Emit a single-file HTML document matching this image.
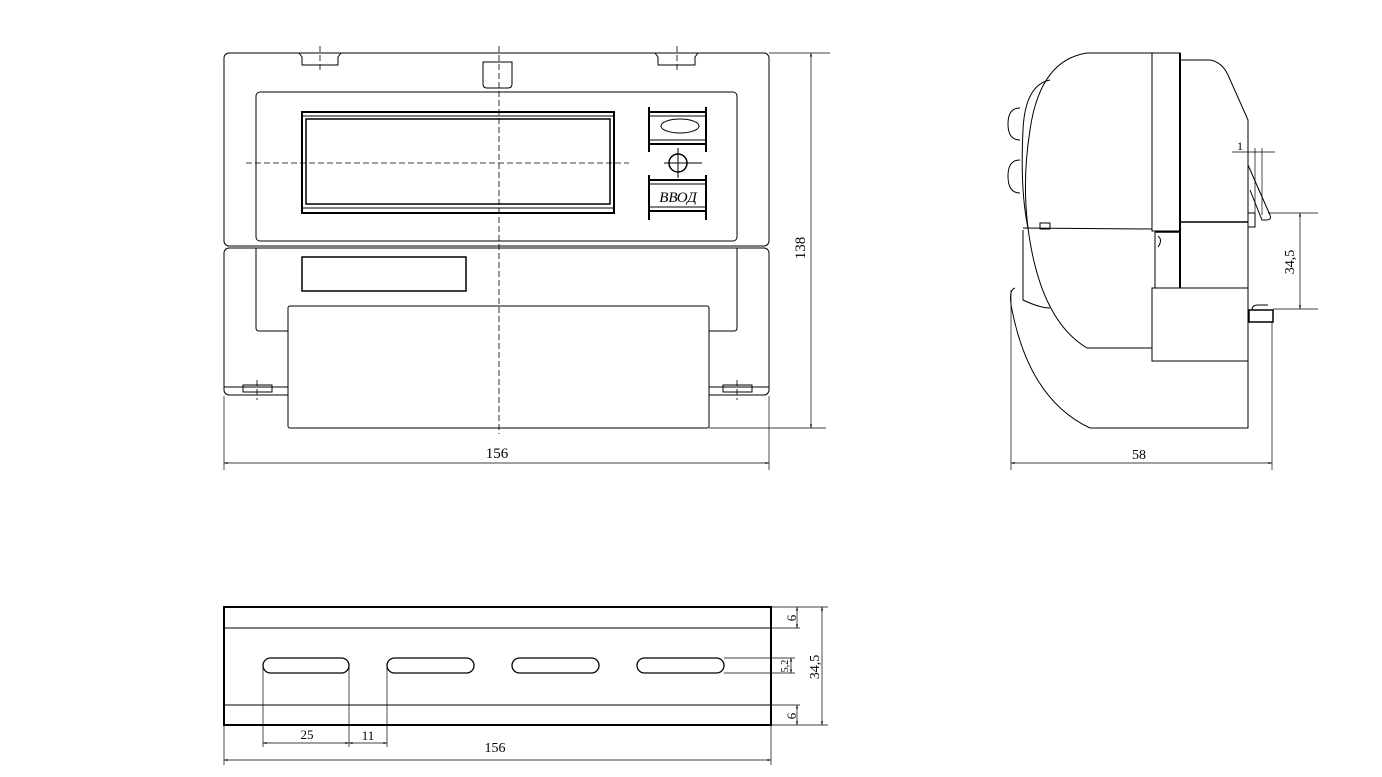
<!DOCTYPE html>
<html><head><meta charset="utf-8"><style>html,body{margin:0;padding:0;background:#fff}svg{display:block}</style></head>
<body>
<svg width="1382" height="777" viewBox="0 0 1382 777" xmlns="http://www.w3.org/2000/svg" font-family="Liberation Serif, serif" fill="none" stroke="#000" stroke-width="1">
<defs><marker id="a" viewBox="0 0 10 10" refX="10" refY="5" markerWidth="7" markerHeight="5" orient="auto-start-reverse"><path d="M0,2 L10,5 L0,8z" fill="#000" stroke="none"/></marker></defs>
<!-- FRONT VIEW -->
<rect x="224" y="53" width="545" height="193" rx="5"/>
<path d="M299,53 L302,57 V65 H338 V57 L341,53"/><path d="M655,53 L658,57 V65 H695 V57 L698,53"/>
<path d="M483,62 H512 V84 Q512,88 508,88 H487 Q483,88 483,84Z"/>
<rect x="256" y="92" width="481" height="149" rx="4"/>
<rect x="302" y="112" width="312" height="101" stroke-width="2"/>
<rect x="306" y="119" width="304" height="85" stroke-width="1.5"/>
<line x1="302" y1="116" x2="614" y2="116"/><line x1="302" y1="208" x2="614" y2="208"/>
<g stroke-width="2"><line x1="649" y1="107" x2="649" y2="152"/><line x1="706" y1="107" x2="706" y2="152"/><line x1="649" y1="112" x2="706" y2="112"/><line x1="649" y1="144" x2="706" y2="144"/>
<line x1="649" y1="175" x2="649" y2="220"/><line x1="706" y1="175" x2="706" y2="220"/><line x1="649" y1="180" x2="706" y2="180"/><line x1="649" y1="211" x2="706" y2="211"/></g>
<line x1="649" y1="116" x2="706" y2="116"/><line x1="649" y1="140" x2="706" y2="140"/><line x1="649" y1="184" x2="706" y2="184"/><line x1="649" y1="207" x2="706" y2="207"/>
<ellipse cx="680" cy="126" rx="19" ry="7"/>
<circle cx="678" cy="163" r="9" stroke-width="1.5"/><line x1="664" y1="163" x2="702" y2="163"/><line x1="678" y1="148" x2="678" y2="178"/>
<text x="678" y="202" font-size="15" font-style="italic" text-anchor="middle" fill="#000" stroke="none">ВВОД</text>
<rect x="224" y="248" width="545" height="147" rx="5"/>
<path d="M256,248 V328 Q256,331 259,331 H288"/><path d="M737,248 V328 Q737,331 734,331 H709"/>
<line x1="224" y1="387" x2="288" y2="387"/><line x1="709" y1="387" x2="769" y2="387"/>
<rect x="302" y="257" width="164" height="34" stroke-width="1.5"/>
<rect x="288" y="306" width="421" height="122" rx="2" fill="#fff"/>
<rect x="243" y="385" width="29" height="7"/><rect x="723" y="385" width="29" height="7"/>
<g stroke-dasharray="6,3" stroke-width="0.8"><line x1="499" y1="46" x2="499" y2="434"/><line x1="246" y1="163" x2="629" y2="163"/>
<line x1="320" y1="46" x2="320" y2="70"/><line x1="677" y1="46" x2="677" y2="70"/><line x1="257" y1="380" x2="257" y2="400"/><line x1="737" y1="380" x2="737" y2="400"/></g>
<line x1="769" y1="53" x2="830" y2="53" stroke-width="0.7"/><line x1="709" y1="428" x2="826" y2="428" stroke-width="0.7"/>
<line x1="811" y1="53" x2="811" y2="428" stroke-width="0.7" marker-start="url(#a)" marker-end="url(#a)"/>
<text transform="translate(805,248) rotate(-90)" font-size="15" text-anchor="middle" fill="#000" stroke="none">138</text>
<line x1="224" y1="396" x2="224" y2="470" stroke-width="0.7"/><line x1="769" y1="396" x2="769" y2="470" stroke-width="0.7"/>
<line x1="224" y1="463" x2="769" y2="463" stroke-width="0.7" marker-start="url(#a)" marker-end="url(#a)"/>
<text x="497" y="458" font-size="15" text-anchor="middle" fill="#000" stroke="none">156</text>
<!-- SIDE VIEW -->
<path d="M1152,53 H1087 Q1040,60 1030,130 Q1022,180 1028,228"/>
<path d="M1050,80 Q1025,85 1023,130 Q1020,190 1028,228"/>
<path d="M1020,108 Q1008,108 1008,124 Q1008,140 1020,140"/><path d="M1020,160 Q1008,160 1008,176 Q1008,193 1020,193"/>
<rect x="1152" y="53" width="28" height="178"/>
<line x1="1180" y1="53" x2="1180" y2="288" stroke-width="2"/>
<path d="M1180,60 H1210 Q1222,62 1228,75 L1248,120 V222"/>
<line x1="1023" y1="228" x2="1152" y2="229"/><rect x="1040" y="223" width="10" height="6"/>
<path d="M1023,230 V300 Q1040,308 1050,308"/>
<path d="M1028,228 Q1040,320 1087,348 H1152"/>
<path d="M1015,288 Q1008,290 1012,310 Q1030,400 1090,428 H1248 V222"/>
<rect x="1152" y="288" width="96" height="73"/>
<line x1="1180" y1="222" x2="1248" y2="222" stroke-width="1.5"/>
<line x1="1155" y1="232" x2="1180" y2="232" stroke-width="1.5"/><line x1="1155" y1="232" x2="1155" y2="288"/>
<path d="M1158,236 Q1163,240 1158,247"/>
<path d="M1248,165 L1270,215 Q1272,220 1266,220 L1262,220 L1250,190"/><path d="M1248,213 H1255 V227 H1248"/>
<rect x="1249" y="310" width="24" height="12" stroke-width="1.5"/><path d="M1252,310 Q1252,305 1258,305 H1268"/>
<line x1="1232" y1="152" x2="1275" y2="152" stroke-width="0.7"/><line x1="1255" y1="148" x2="1255" y2="225" stroke-width="0.7"/><line x1="1262" y1="148" x2="1262" y2="215" stroke-width="0.7"/>
<text x="1240" y="150" font-size="12" text-anchor="middle" fill="#000" stroke="none">1</text>
<line x1="1268" y1="213" x2="1318" y2="213" stroke-width="0.7"/><line x1="1273" y1="309" x2="1318" y2="309" stroke-width="0.7"/>
<line x1="1300" y1="213" x2="1300" y2="309" stroke-width="0.7" marker-start="url(#a)" marker-end="url(#a)"/>
<text transform="translate(1294,262) rotate(-90)" font-size="14" text-anchor="middle" fill="#000" stroke="none">34,5</text>
<line x1="1011" y1="290" x2="1011" y2="470" stroke-width="0.7"/><line x1="1272" y1="322" x2="1272" y2="470" stroke-width="0.7"/>
<line x1="1011" y1="463" x2="1272" y2="463" stroke-width="0.7" marker-start="url(#a)" marker-end="url(#a)"/>
<text x="1139" y="459" font-size="14" text-anchor="middle" fill="#000" stroke="none">58</text>
<!-- DIN RAIL -->
<rect x="224" y="607" width="547" height="118" stroke-width="2"/>
<line x1="224" y1="628" x2="771" y2="628"/><line x1="224" y1="705" x2="771" y2="705"/>
<g stroke-width="1.3"><rect x="263" y="658" width="86" height="15" rx="7.5"/><rect x="387" y="658" width="87" height="15" rx="7.5"/><rect x="512" y="658" width="87" height="15" rx="7.5"/><rect x="637" y="658" width="87" height="15" rx="7.5"/></g>
<g stroke-width="0.7">
<line x1="263" y1="666" x2="263" y2="747"/><line x1="349" y1="666" x2="349" y2="747"/><line x1="387" y1="666" x2="387" y2="747"/>
<line x1="263" y1="743" x2="349" y2="743" marker-start="url(#a)" marker-end="url(#a)"/><line x1="349" y1="743" x2="387" y2="743" marker-start="url(#a)" marker-end="url(#a)"/>
<line x1="224" y1="726" x2="224" y2="765"/><line x1="771" y1="726" x2="771" y2="765"/>
<line x1="224" y1="760" x2="771" y2="760" marker-start="url(#a)" marker-end="url(#a)"/>
<line x1="771" y1="607" x2="828" y2="607"/><line x1="771" y1="725" x2="828" y2="725"/><line x1="771" y1="628" x2="800" y2="628"/><line x1="771" y1="705" x2="800" y2="705"/>
<line x1="724" y1="658" x2="795" y2="658"/><line x1="724" y1="673" x2="795" y2="673"/>
<line x1="797" y1="607" x2="797" y2="628" marker-start="url(#a)" marker-end="url(#a)"/><line x1="797" y1="705" x2="797" y2="725" marker-start="url(#a)" marker-end="url(#a)"/>
<line x1="791" y1="658" x2="791" y2="673" marker-start="url(#a)" marker-end="url(#a)"/>
<line x1="822" y1="607" x2="822" y2="725" marker-start="url(#a)" marker-end="url(#a)"/>
</g>
<g fill="#000" stroke="none" font-size="13" text-anchor="middle">
<text x="307" y="739">25</text><text x="368" y="740">11</text><text x="495" y="752" font-size="14">156</text>
<text transform="translate(796,618) rotate(-90)">6</text><text transform="translate(796,716) rotate(-90)">6</text>
<text transform="translate(788,666) rotate(-90)" font-size="10">5,2</text>
<text transform="translate(819,667) rotate(-90)" font-size="14">34,5</text>
</g>
</svg>
</body></html>
